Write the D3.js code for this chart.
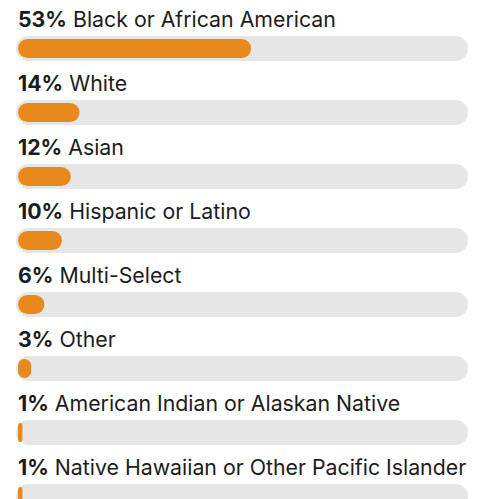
<!DOCTYPE html>
<html>
<head>
<meta charset="utf-8">
<script src="https://cdn.jsdelivr.net/npm/d3@7"></script>
<style>
  body { margin: 0; background: #fff; }
  svg text { font-family: Inter, "Open Sans", sans-serif; fill: #1c1c1c; }
</style>
</head>
<body>
<div id="chart"></div>
<script>
const categories = [
  "Black or African American",
  "White",
  "Asian",
  "Hispanic or Latino",
  "Multi-Select",
  "Other",
  "American Indian or Alaskan Native",
  "Native Hawaiian or Other Pacific Islander"
];
const percents = [53, 14, 12, 10, 6, 3, 1, 1];

const width = 486, height = 499;
const rowHeight = 64;
const trackLeft = 16, trackWidth = 452, trackHeight = 25;

const svg = d3.select("#chart")
  .append("svg")
  .attr("width", width)
  .attr("height", height);

const x = d3.scaleLinear()
  .domain([0, 100])
  .range([0, 440]);

const y = d3.scaleBand()
  .domain(categories)
  .range([0, rowHeight * categories.length]);

const rows = svg.selectAll("g.row")
  .data(categories.map((name, i) => ({ name, pct: percents[i] })))
  .enter().append("g")
  .attr("class", "row")
  .attr("transform", d => `translate(0,${y(d.name)})`);

const label = rows.append("text")
  .attr("x", 18)
  .attr("y", 27)
  .attr("font-size", 21.3);
label.append("tspan")
  .attr("font-weight", "bold")
  .text(d => d.pct + "%");
label.append("tspan")
  .text(d => " " + d.name);

// grey track
rows.append("rect")
  .attr("x", trackLeft)
  .attr("y", 36)
  .attr("width", trackWidth)
  .attr("height", trackHeight)
  .attr("rx", trackHeight / 2)
  .attr("fill", "#e6e6e6");

// orange fill
rows.append("rect")
  .attr("x", 18)
  .attr("y", 39)
  .attr("width", d => x(d.pct))
  .attr("height", 19)
  .attr("rx", d => Math.min(9.5, x(d.pct) / 2))
  .attr("fill", "#e8891e");
</script>
</body>
</html>
